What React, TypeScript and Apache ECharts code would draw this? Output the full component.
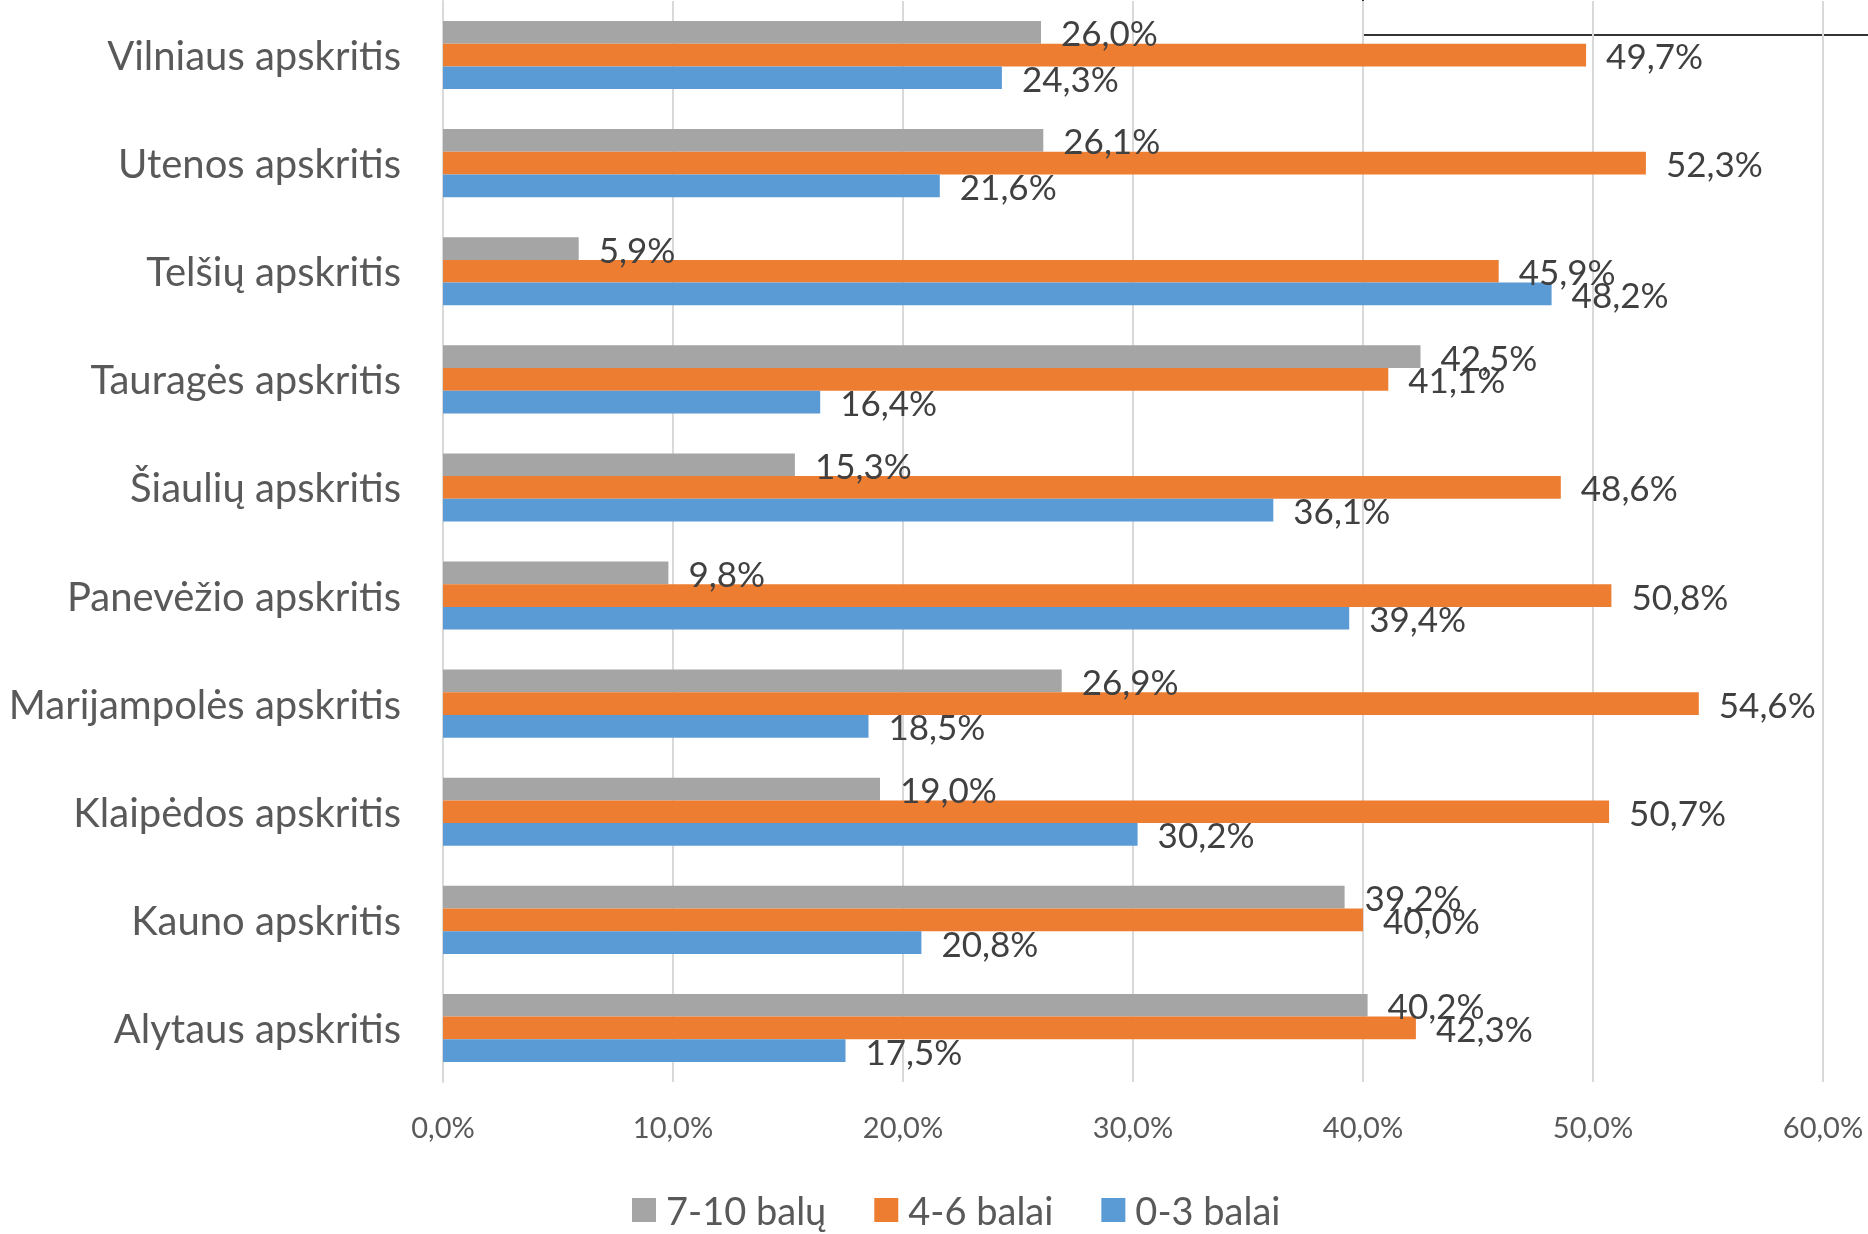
import React, { useEffect, useRef } from "react";
import * as echarts from "echarts";

const categories = [
  "Alytaus apskritis",
  "Kauno apskritis",
  "Klaipėdos apskritis",
  "Marijampolės apskritis",
  "Panevėžio apskritis",
  "Šiaulių apskritis",
  "Tauragės apskritis",
  "Telšių apskritis",
  "Utenos apskritis",
  "Vilniaus apskritis",
];

const seriesNames = ["7-10 balų", "4-6 balai", "0-3 balai"];
const high = [40.2, 39.2, 19.0, 26.9, 9.8, 15.3, 42.5, 5.9, 26.1, 26.0];
const mid = [42.3, 40.0, 50.7, 54.6, 50.8, 48.6, 41.1, 45.9, 52.3, 49.7];
const low = [17.5, 20.8, 30.2, 18.5, 39.4, 36.1, 16.4, 48.2, 21.6, 24.3];
const colors = ["#A5A5A5", "#ED7D31", "#5B9BD5"];

const FONT = "Lato";
const fmt = (v: number) => v.toFixed(1).replace(".", ",") + "%";

export default function App() {
  const ref = useRef<HTMLDivElement>(null);
  useEffect(() => {
    if (!ref.current) return;
    const chart = echarts.init(ref.current, null, { renderer: "svg" });
    const values = [high, mid, low];
    chart.setOption({
      animation: false,
      textStyle: { fontFamily: FONT },
      grid: { left: 443, right: 45, top: 1, bottom: 152 },
      legend: {
        data: seriesNames,
        left: 627,
        top: 1186,
        itemWidth: 24,
        itemHeight: 24,
        itemGap: 48,
        icon: "rect",
        textStyle: { fontSize: 38, color: "#595959", fontFamily: FONT, padding: [0, 0, 0, 5] },
      },
      xAxis: {
        type: "value",
        min: 0,
        max: 60,
        interval: 10,
        axisLine: { show: false },
        axisTick: { show: false },
        splitLine: { lineStyle: { color: "#D9D9D9", width: 2 } },
        axisLabel: {
          margin: 30,
          fontSize: 29,
          color: "#595959",
          fontFamily: FONT,
          formatter: (v: number) => fmt(v),
        },
      },
      yAxis: {
        type: "category",
        data: categories,
        axisLine: { show: true, lineStyle: { color: "#D9D9D9", width: 2 } },
        axisTick: { show: false },
        axisLabel: { margin: 42, fontSize: 40, color: "#595959", fontFamily: FONT },
      },
      graphic: [
        {
          type: "rect",
          shape: { x: 1363, y: -10, width: 600, height: 45 },
          style: { fill: "none", stroke: "#333333", lineWidth: 2 },
        },
      ],
      series: seriesNames.map((name, i) => ({
        name,
        type: "bar",
        data: values[i],
        barGap: "0%",
        barCategoryGap: "37%",
        itemStyle: { color: colors[i] },
        label: {
          show: true,
          position: "right",
          distance: 20,
          fontSize: 35,
          color: "#404040",
          fontFamily: FONT,
          formatter: (p: any) => fmt(p.value),
        },
      })),
    });
    return () => chart.dispose();
  }, []);
  return (
    <div
      ref={ref}
      style={{ position: "fixed", left: 0, top: 0, width: 1868, height: 1234 }}
    />
  );
}
